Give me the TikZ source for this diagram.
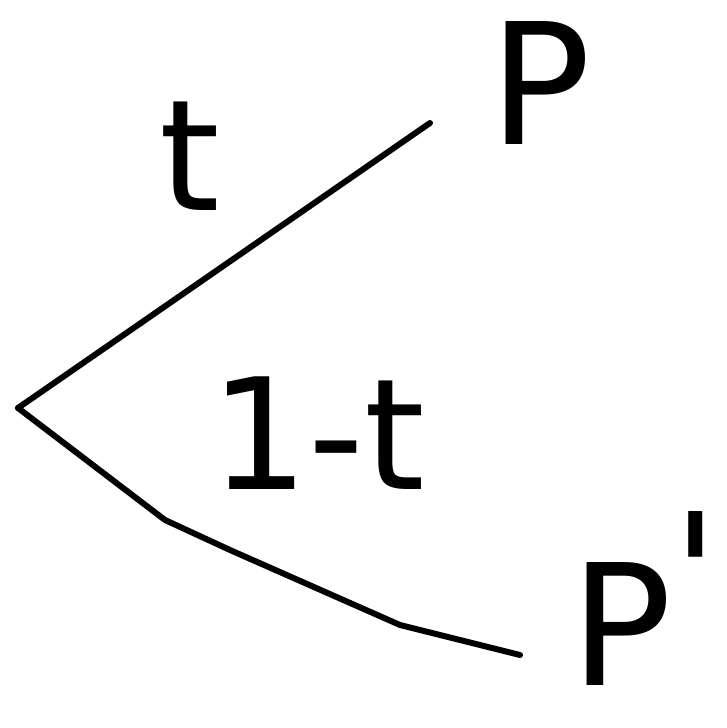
\documentclass[tikz,border=0pt]{standalone}
\usepackage{fontspec}
\setmainfont{DejaVu Sans}
\tikzset{
  branch/.style={line width=1.7pt, line cap=round, line join=round},
  leaflabel/.style={font=\fontsize{48}{56}\selectfont, inner sep=0pt},
  weightlabel/.style={font=\fontsize{44}{50}\selectfont, inner sep=0pt}
}
\begin{document}
\begin{tikzpicture}
  \useasboundingbox (0,0) rectangle (7.26,7.28);
  % root and branch ends
  \coordinate (root) at (0.18,3.20);
  \coordinate (topend) at (4.30,6.05);
  \coordinate (bend) at (1.65,2.08);
  \coordinate (botend) at (5.20,0.73);
  % leaves
  \node[leaflabel] (p) at (5.40,6.45) {P};
  \node[leaflabel, anchor=south west] (pprime) at (5.70,0.42) {P\raisebox{0.3em}{\textquotesingle}};
  % weights
  \node[weightlabel] (wt) at (1.90,5.72) {t};
  \node[weightlabel] (wone) at (3.18,2.95) {1-t};
  % branches
  \draw[branch] (root) -- (topend);
  \draw[branch] (root) -- (bend) -- (2.30,1.78) -- (4.00,1.03) -- (botend);
\end{tikzpicture}
\end{document}
